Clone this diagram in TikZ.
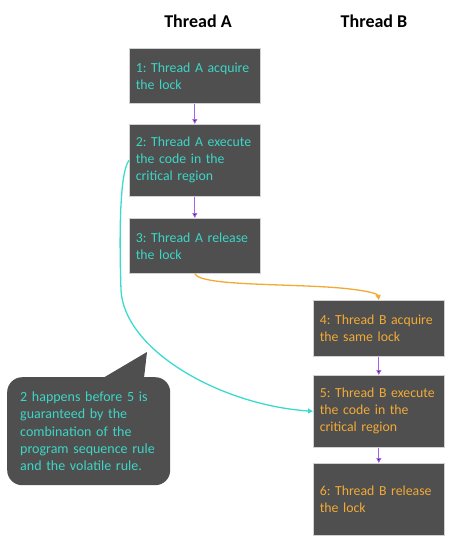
\documentclass[tikz,border=0pt]{standalone}
\usepackage{fontspec}
\setmainfont{Carlito}
\usetikzlibrary{arrows.meta,positioning}
\definecolor{boxgray}{HTML}{4F4F4F}
\definecolor{teal}{HTML}{3CD6C6}
\definecolor{amber}{HTML}{F2AA35}
\definecolor{violet}{HTML}{A862EA}
\definecolor{cyanline}{HTML}{3ADBCF}
\tikzset{tbox/.style={rectangle,fill=boxgray,draw=black!18,line width=0.6pt,anchor=north west,
    minimum width=131pt,text width=118pt,inner xsep=6.5pt,align=left,
    font=\fontsize{13.8}{17}\selectfont,
    execute at begin node={\frenchspacing\hyphenpenalty=10000}}}
\tikzset{seq/.style={-{Triangle[length=5pt,width=5pt]},draw=violet,line width=1pt}}
\begin{document}
\begin{tikzpicture}[x=1pt,y=-1pt]
\useasboundingbox (0,0) rectangle (450,539);
% \draw[help lines] (0,0) grid (450,539);
\node (tA) at (198,21) {\bfseries\fontsize{18}{22}\selectfont Thread A};
\node (tB) at (374,21) {\bfseries\fontsize{18}{22}\selectfont Thread B};
%
\node (a1) [tbox,minimum height=55pt,text=teal] at (129,48) {1: Thread A acquire\\the lock};
\node (a2) [tbox,minimum height=72pt,text=teal] at (129,124) {2: Thread A execute\\the code in the\\critical region};
\node (a3) [tbox,minimum height=55pt,text=teal] at (129,218) {3: Thread A release\\the lock};
\node (b4) [tbox,minimum height=56pt,text=amber] at (313,300) {4: Thread B acquire\\the same lock};
\node (b5) [tbox,minimum height=72pt,text=amber] at (313,375) {5: Thread B execute\\the code in the\\critical region};
\node (b6) [tbox,minimum height=72pt,text=amber] at (313,463) {6: Thread B release\\the lock};
%
\path[seq] (a1) edge (a2);
\path[seq] (a2) edge (a3);
\path[seq] (b4) edge (b5);
\path[seq] (b5) edge (b6);
%
\draw[-{Triangle[length=5pt,width=5pt]},amber,line width=1.3pt]
  (a3.south) .. controls (200,287) and (300,283) .. (350,289)
  .. controls (368,291) and (378,294) .. (b4.north);
\draw[-{Triangle[length=5pt,width=5pt]},cyanline,line width=1.3pt]
  (a2.west) .. controls (120,172) and (119,230) .. (121,290)
  .. controls (124,350) and (220,405) .. (b5.west);
%
\coordinate (tip) at (147,352);
\node (note) [rectangle,rounded corners=15pt,fill=boxgray,anchor=north west,
  minimum width=163pt,minimum height=108pt,text width=137pt,inner xsep=13pt,
  align=left,text=teal,font=\fontsize{14}{17.3}\selectfont,
  execute at begin node={\hyphenpenalty=10000}] at (7,377)
  {2 happens before 5 is\\guaranteed by the\\combination of the\\program sequence rule\\and the volatile rule.};
\fill[boxgray] (103,378) -- (tip) -- (144,378) -- cycle;
\end{tikzpicture}
\end{document}
